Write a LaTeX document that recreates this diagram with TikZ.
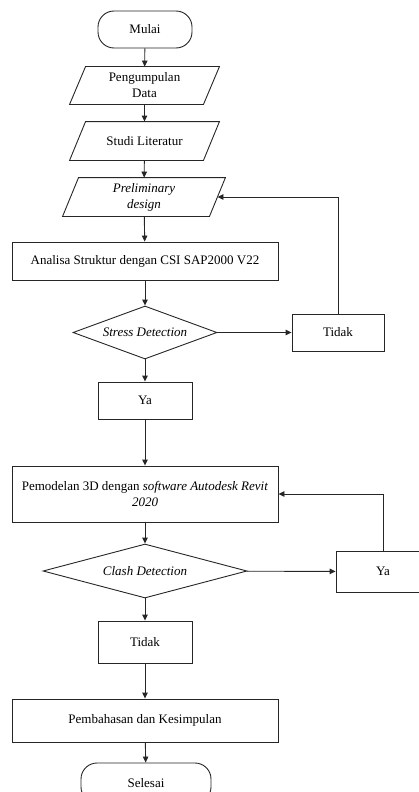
\documentclass[tikz,border=0pt]{standalone}
\usepackage{fontspec}
\setmainfont{Liberation Serif}
\usetikzlibrary{shapes.geometric,arrows.meta}
\tikzset{
  base/.style={font=\fontsize{13}{16}\selectfont, inner sep=0pt, align=center, line width=0.9pt},
  box/.style={base, draw=black!85, rectangle},
  term/.style={base, draw=black!85, rectangle, rounded corners=16pt},
  para/.style={base, rectangle, append after command={
      \pgfextra{\draw[line width=0.9pt, draw=black!85]
        ([xshift=8pt]\tikzlastnode.north west) -- ([xshift=8pt]\tikzlastnode.north east) --
        ([xshift=-8pt]\tikzlastnode.south east) -- ([xshift=-8pt]\tikzlastnode.south west) -- cycle;}}},
  dec/.style={base, draw=black!85, diamond, aspect=2.7},
  arr/.style={line width=0.9pt, draw=black!85, -{Triangle[length=6pt,width=5.5pt]}},
}
\begin{document}
\begin{tikzpicture}[x=1pt,y=-1pt]
\useasboundingbox (0,0) rectangle (419,792);
\node[term, minimum width=94pt, minimum height=37pt] (mulai) at (145,29.5) {Mulai};
\node[para, minimum width=133pt, minimum height=37pt] (data) at (144.5,85.5) {Pengumpulan\\Data};
\node[para, minimum width=133pt, minimum height=38pt] (studi) at (144.5,141) {Studi Literatur};
\node[para, minimum width=146pt, minimum height=38pt] (prelim) at (144,197) {\textit{Preliminary}\\\textit{design}};
\node[box, minimum width=266pt, minimum height=38pt] (analisa) at (145,261) {Analisa Struktur dengan CSI SAP2000 V22};
\node[dec, minimum width=144pt, minimum height=53pt] (stress) at (145,332.5) {\textit{Stress Detection}};
\node[box, minimum width=92pt, minimum height=37pt] (tidak1) at (338,332.5) {Tidak};
\node[box, minimum width=94pt, minimum height=37pt] (ya1) at (145,400.5) {Ya};
\node[box, minimum width=266pt, minimum height=56pt] (model) at (145,494) {Pemodelan 3D dengan \textit{software Autodesk Revit}\\\textit{2020}};
\node[dec, minimum width=204pt, minimum height=54pt] (clash) at (145,571) {\textit{Clash Detection}};
\node[box, minimum width=94pt, minimum height=41pt] (ya2) at (383,571.5) {Ya};
\node[box, minimum width=94pt, minimum height=42pt] (tidak2) at (145,642) {Tidak};
\node[box, minimum width=266pt, minimum height=43pt] (bahas) at (145,720.5) {Pembahasan dan Kesimpulan};
\node[term, minimum width=130pt, minimum height=40pt] (selesai) at (146,783) {Selesai};

\draw[arr] (mulai) -- (data);
\draw[arr] (data) -- (studi);
\draw[arr] (studi) -- (prelim);
\draw[arr] (prelim) -- (analisa);
\draw[arr] (analisa) -- (stress);
\draw[arr] (stress) -- (tidak1);
\draw[arr] (tidak1.north) |- (prelim.east);
\draw[arr] (stress) -- (ya1);
\draw[arr] (ya1) -- (model);
\draw[arr] (model) -- (clash);
\draw[arr] (clash) -- (ya2);
\draw[arr] (ya2.north) |- (model.east);
\draw[arr] (clash) -- (tidak2);
\draw[arr] (tidak2) -- (bahas);
\draw[arr] (bahas) -- (selesai);
\end{tikzpicture}
\end{document}
